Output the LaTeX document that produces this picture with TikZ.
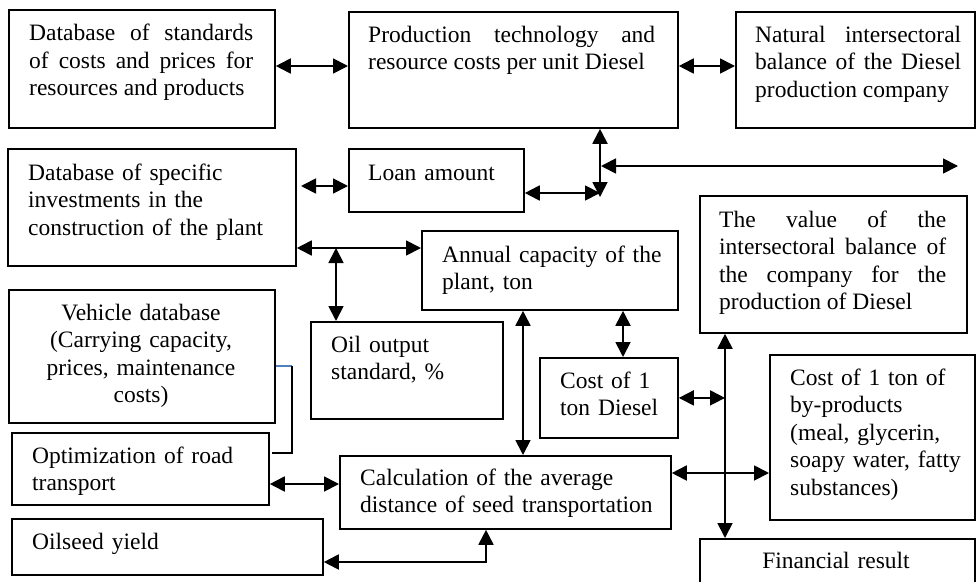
\documentclass[tikz,border=0pt]{standalone}
\usepackage{fontspec}
\setmainfont{Liberation Serif}
\usetikzlibrary{arrows.meta}
\definecolor{lnblue}{RGB}{79,129,189}
\newcommand\myfsz{\fontsize{23.5pt}{27.5pt}\selectfont\tolerance=10000 \hyphenpenalty=10000 \exhyphenpenalty=10000 }
\begin{document}
\begin{tikzpicture}[x=1pt,y=-1pt,
  box/.style={draw, line width=1.8pt, anchor=north west, inner sep=0pt},
  txt/.style={anchor=base west, inner sep=0pt, text width=#1, align=justify, font=\myfsz},
  txtl/.style={anchor=base west, inner sep=0pt, text width=#1, align=left, font=\myfsz},
  txtc/.style={anchor=base, inner sep=0pt, text width=#1, align=center, font=\myfsz},
  arr/.style={{Triangle[length=15pt,width=15pt]}-{Triangle[length=15pt,width=15pt]}, line width=1.8pt},
  plain/.style={line width=1.8pt},
  blueline/.style={line width=1.2pt, draw=lnblue}]
\useasboundingbox (0,0) rectangle (976,581);
\begin{scope}
\clip (0,0) rectangle (976,581);
% boxes
\node[box, minimum width=266pt, minimum height=118pt] (A) at (8,9) {};
\node[box, minimum width=329pt, minimum height=116pt] (B) at (348,11) {};
\node[box, minimum width=239pt, minimum height=116pt] (C) at (735,11) {};
\node[box, minimum width=288pt, minimum height=117pt] (D) at (7,148) {};
\node[box, minimum width=175pt, minimum height=63pt] (E) at (348,148) {};
\node[box, minimum width=256pt, minimum height=79pt] (F) at (421,230) {};
\node[box, minimum width=192pt, minimum height=97pt] (G) at (310,321) {};
\node[box, minimum width=266pt, minimum height=133pt] (H) at (8,289) {};
\node[box, minimum width=257pt, minimum height=72pt] (I) at (11,432) {};
\node[box, minimum width=331pt, minimum height=73pt] (J) at (339,455) {};
\node[box, minimum width=311pt, minimum height=56pt] (K) at (11,518) {};
\node[box, minimum width=138pt, minimum height=80pt] (L) at (539,357) {};
\node[box, minimum width=267pt, minimum height=137pt] (M) at (699,195) {};
\node[box, minimum width=205pt, minimum height=165pt] (N) at (769,354) {};
\node[box, minimum width=275pt, minimum height=70pt] (O) at (699,538) {};
\end{scope}
% texts
\node[txt=224pt] (tA) at (29,40.5) {Database of standards\linebreak of costs and prices for\linebreak resources and products};
\node[txt=287pt] (tB) at (368,42) {Production technology and\linebreak resource costs per unit Diesel};
\node[txt=206pt] (tC) at (755,42) {Natural intersectoral\linebreak balance of the Diesel\linebreak production company};
\node[txtl=260pt] (tD) at (28,180) {Database of specific\\ investments in the\\ construction of the plant};
\node[txtl=150pt] (tE) at (368,180) {Loan amount};
\node[txtl=230pt] (tF) at (442,262) {Annual capacity of the\\ plant, ton};
\node[txt=227pt] (tM) at (719,227) {The value of the\linebreak intersectoral balance of\linebreak the company for the\linebreak production of Diesel};
\node[txtc=260pt] (tH) at (141,320) {Vehicle database\\ (Carrying capacity,\\ prices, maintenance\\ costs)};
\node[txtl=160pt] (tG) at (331,352) {Oil output\\ standard, \%};
\node[txtl=115pt] (tL) at (560,388) {Cost of 1\\ ton Diesel};
\node[txtl=180pt] (tN) at (790,385) {Cost of 1 ton of\\ by-products\\ (meal, glycerin,\\ soapy water, fatty\\ substances)};
\node[txtl=230pt] (tI) at (32,463) {Optimization of road\\ transport};
\node[txtl=305pt] (tJ) at (360,485) {Calculation of the average\\ distance of seed transportation};
\node[txtl=280pt] (tK) at (32,549) {Oilseed yield};
\node[txtc=260pt] (tO) at (836,568) {Financial result};
% helper coordinates
\coordinate (yAB) at (0,66);
\coordinate (dE) at (301,186);
\coordinate (jv) at (600,197);
\coordinate (yE) at (0,193);
\coordinate (h1) at (601,166);
\coordinate (h2) at (958,166);
\coordinate (yDF) at (0,248);
\coordinate (xG) at (336,248);
\coordinate (hb) at (292,366);
\coordinate (hc) at (292,453);
\coordinate (hd) at (272,453);
\coordinate (yIJ) at (0,484);
\coordinate (kj) at (486,562);
\coordinate (xFJ) at (523,0);
\coordinate (xFL) at (623,0);
\coordinate (xMO) at (725,0);
\coordinate (yJN) at (0,473);
% connectors
\draw[arr] (A.east |- yAB) -- (B.west |- yAB);
\draw[arr] (B.east |- yAB) -- (C.west |- yAB);
\draw[arr] (dE) -- (E.west |- dE);
\draw[arr] (B.south -| jv) -- (jv);
\draw[arr] (E.east |- yE) -- (jv |- yE);
\draw[arr] (h1) -- (h2);
\draw[arr] (D.east |- yDF) -- (F.west |- yDF);
\draw[arr] (xG) -- (G.north -| xG);
\draw[blueline] (H.east |- hb) -- (hb);
\draw[plain] (hb) -- (hc) -- (hd);
\draw[arr] (I.east |- yIJ) -- (J.west |- yIJ);
\draw[arr] (K.east |- kj) -- (kj) -- (J.south -| kj);
\draw[arr] (F.south -| xFJ) -- (J.north -| xFJ);
\draw[arr] (F.south -| xFL) -- (L.north -| xFL);
\draw[arr] (M.south -| xMO) -- (O.north -| xMO);
\draw[arr] (L.east) -- (L.east -| xMO);
\draw[arr] (J.east |- yJN) -- (N.west |- yJN);
\end{tikzpicture}
\end{document}
